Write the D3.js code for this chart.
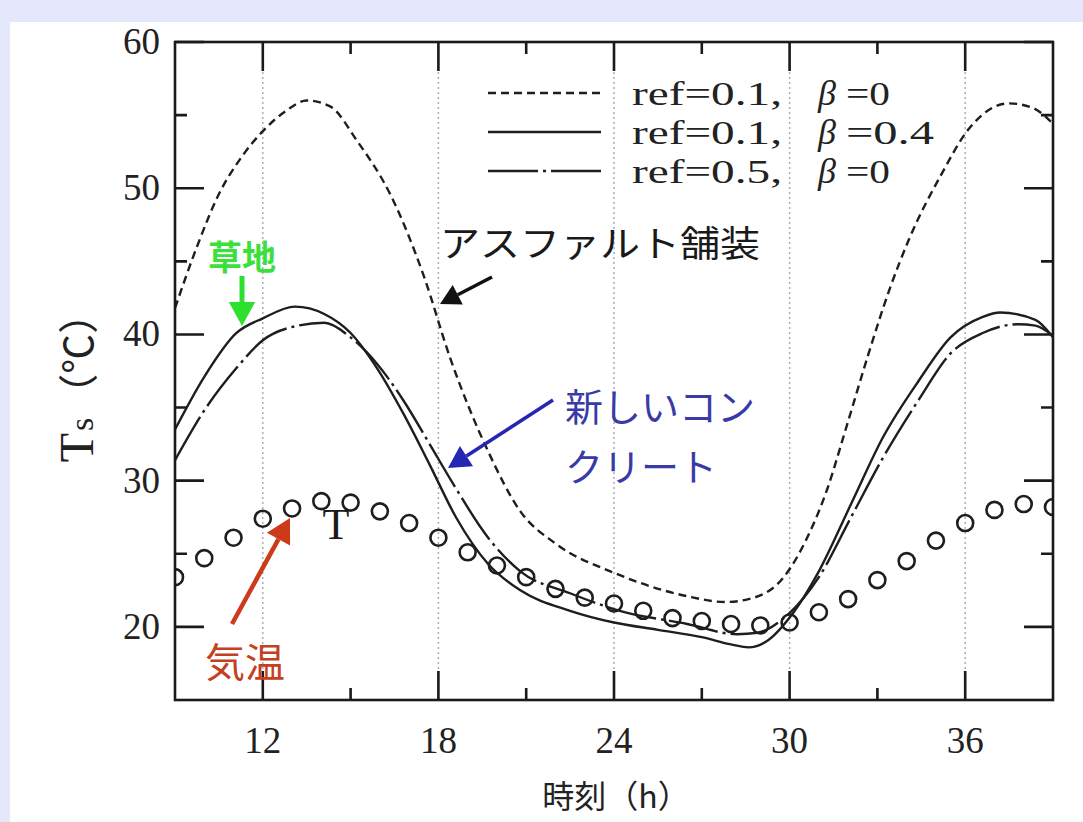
<!DOCTYPE html>
<html>
<head>
<meta charset="utf-8">
<script src="https://cdn.jsdelivr.net/npm/d3@7"></script>
<style>
  html, body { margin: 0; padding: 0; background: #e4e8fa; }
  svg { display: block; }
</style>
</head>
<body>
<script>
// surface temperature Ts for three pavement cases, and air temperature T
var asphaltH = [9, 9.75, 10.5, 11.3, 12, 12.8, 13.5, 14.3, 15.2, 16.4, 17.5, 18.4, 19.7, 20.8, 22, 24, 26.5, 27.8, 28.6, 29.8, 30.6, 31.3, 31.9, 32.7, 33.4, 34.1, 35.2, 36.1, 37.5, 38.3, 39];
var asphaltT = [41.8, 46, 49.6, 52.2, 53.9, 55.3, 56, 55.6, 53.3, 49.4, 44, 38.4, 32, 27.9, 25.7, 23.7, 22.1, 21.7, 21.9, 23.4, 26.1, 29.5, 33.4, 38.7, 43.0, 46.6, 51, 54, 55.8, 55.5, 54.4];

var grassH = [9, 10, 11.1, 12, 13.1, 14.1, 15, 15.9, 16.8, 17.7, 18.6, 19.7, 20.8, 22.5, 24, 25.5, 27, 28, 28.6, 29.2, 30.1, 31, 32.1, 33.2, 34.4, 35.5, 36.6, 37.2, 38.4, 39];
var grassT = [33.5, 37.1, 40.1, 41.1, 41.9, 41.4, 40.1, 37.7, 34.6, 31.1, 27.5, 24.3, 22.5, 21.1, 20.3, 19.8, 19.3, 18.8, 18.6, 19.0, 20.9, 23.8, 28.4, 33, 36.8, 39.8, 41.2, 41.5, 41, 39.8];

var concreteH = [9, 10, 11.1, 12, 13.2, 14.1, 15, 15.9, 16.8, 17.7, 18.5, 19.7, 20.8, 22.5, 24.2, 26.5, 28.2, 28.9, 29.8, 31, 32.1, 33.2, 34.4, 35.5, 36.6, 37.8, 38.4, 39];
var concreteT = [31.4, 34.8, 37.7, 39.6, 40.6, 40.8, 39.8, 38, 35.5, 32.5, 29.8, 26.1, 23.8, 22.3, 21.1, 20.2, 19.5, 19.6, 20.6, 23.4, 27.5, 31.6, 35.5, 38.7, 40.1, 40.7, 40.6, 39.9];

var airH = d3.range(9, 40);
var airT = [23.4, 24.7, 26.1, 27.4, 28.1, 28.6, 28.5, 27.9, 27.1, 26.1, 25.1, 24.2, 23.4, 22.6, 22.0, 21.6, 21.1, 20.6, 20.4, 20.2, 20.1, 20.3, 21.0, 21.9, 23.2, 24.5, 25.9, 27.1, 28.0, 28.4, 28.2];

var xMajor = [12, 18, 24, 30, 36];
var xMinor = [15, 21, 27, 33];
var yMajor = [20, 30, 40, 50, 60];
var yMinor = [25, 35, 45, 55];

var legendRef = ["ref=0.1,", "ref=0.1,", "ref=0.5,"];
var legendBeta = ["=0", "=0.4", "=0"];
var dashes = ["8,5", null, "50,5,3,5"];

var W = 1083, H = 822;
var svg = d3.select("body").append("svg").attr("width", W).attr("height", H);

svg.append("rect").attr("x", 10).attr("y", 22).attr("width", W - 10).attr("height", H - 22).attr("fill", "#fff");

var x = d3.scaleLinear().domain([9, 39]).range([175, 1053]);
var y = d3.scaleLinear().domain([15, 60]).range([700, 42]);

var serif = "'Liberation Serif', 'Times New Roman', serif";
var jp = "'Noto Sans CJK JP', 'Noto Sans', sans-serif";

// dotted grid at major hours
svg.append("g").selectAll("line").data(xMajor).enter().append("line")
  .attr("x1", function (d) { return x(d); })
  .attr("x2", function (d) { return x(d); })
  .attr("y1", y(60)).attr("y2", y(15))
  .attr("stroke", "#a9a9c8")
  .attr("stroke-width", 1.5)
  .attr("stroke-dasharray", "2,3");

// inward ticks on all four sides, one path
var x0 = x(9), x1 = x(39), yb = y(15), yt = y(60);
var td = "";
function addX(vals, len) {
  vals.forEach(function (v) {
    var px = x(v);
    td += "M" + px + "," + yb + "V" + (yb - len);
    td += "M" + px + "," + yt + "V" + (yt + len);
  });
}
function addY(vals, len) {
  vals.forEach(function (v) {
    var py = y(v);
    td += "M" + x0 + "," + py + "H" + (x0 + len);
    td += "M" + x1 + "," + py + "H" + (x1 - len);
  });
}
addX(xMajor, 29);
addX(xMinor, 12);
addY(yMajor, 29);
addY(yMinor, 12);
svg.append("path").attr("d", td)
  .attr("fill", "none").attr("stroke", "#1a1a1a").attr("stroke-width", 2.6);

// tick labels
svg.append("g").selectAll("text").data(xMajor).enter().append("text")
  .attr("x", function (d) { return x(d); })
  .attr("y", 753)
  .attr("text-anchor", "middle")
  .attr("font-family", serif).attr("font-size", 37).attr("fill", "#222")
  .text(function (d) { return d; });
svg.append("g").selectAll("text").data(yMajor).enter().append("text")
  .attr("x", 160)
  .attr("y", function (d) { return y(d) + 12; })
  .attr("text-anchor", "end")
  .attr("font-family", serif).attr("font-size", 37).attr("fill", "#222")
  .text(function (d) { return d; });

// clip to plot area
svg.append("clipPath").attr("id", "plot").append("rect")
  .attr("x", x0).attr("y", yt).attr("width", x1 - x0).attr("height", yb - yt);

var plot = svg.append("g").attr("clip-path", "url(#plot)");

var line = d3.line()
  .x(function (d) { return x(d[0]); })
  .y(function (d) { return y(d[1]); })
  .curve(d3.curveMonotoneX);

var series = [d3.zip(asphaltH, asphaltT), d3.zip(grassH, grassT), d3.zip(concreteH, concreteT)];
series.forEach(function (s, i) {
  plot.append("path").datum(s)
    .attr("d", line)
    .attr("fill", "none")
    .attr("stroke", "#1e1e1e")
    .attr("stroke-width", 2.4)
    .attr("stroke-dasharray", dashes[i]);
});

plot.append("g").selectAll("circle").data(d3.zip(airH, airT)).enter().append("circle")
  .attr("cx", function (d) { return x(d[0]); })
  .attr("cy", function (d) { return y(d[1]); })
  .attr("r", 8)
  .attr("fill", "none")
  .attr("stroke", "#1e1e1e")
  .attr("stroke-width", 2.6);

// frame
svg.append("rect")
  .attr("x", x0).attr("y", yt)
  .attr("width", x1 - x0).attr("height", yb - yt)
  .attr("fill", "none").attr("stroke", "#1a1a1a").attr("stroke-width", 2.6);

// legend
var leg = svg.append("g");
legendRef.forEach(function (lab, i) {
  var ly = 93 + i * 39;
  leg.append("line").attr("x1", 488).attr("x2", 601).attr("y1", ly).attr("y2", ly)
    .attr("stroke", "#1e1e1e").attr("stroke-width", 2.4).attr("stroke-dasharray", dashes[i]);
  leg.append("text").attr("x", 632).attr("y", ly + 12)
    .attr("font-family", serif).attr("font-size", 34).attr("fill", "#222")
    .attr("textLength", 150).attr("lengthAdjust", "spacingAndGlyphs")
    .text(lab);
  leg.append("text").attr("x", 818).attr("y", ly + 12)
    .attr("font-family", serif).attr("font-size", 36).attr("font-style", "italic").attr("fill", "#222")
    .text("β");
  leg.append("text").attr("x", 846).attr("y", ly + 12)
    .attr("font-family", serif).attr("font-size", 34).attr("fill", "#222")
    .attr("textLength", legendBeta[i].length * 22).attr("lengthAdjust", "spacingAndGlyphs")
    .text(legendBeta[i]);
});

// arrows
function arrow(ax, ay, bx2, by2, color, w, head) {
  var a = Math.atan2(by2 - ay, bx2 - ax);
  var bx = bx2 - head * Math.cos(a), by = by2 - head * Math.sin(a);
  svg.append("line").attr("x1", ax).attr("y1", ay).attr("x2", bx).attr("y2", by)
    .attr("stroke", color).attr("stroke-width", w);
  var hw = head * 0.55;
  var p = [[bx2, by2],
    [bx + hw * Math.sin(a), by - hw * Math.cos(a)],
    [bx - hw * Math.sin(a), by + hw * Math.cos(a)]];
  svg.append("path").attr("d", "M" + p.join("L") + "Z").attr("fill", color);
}

svg.append("text").attr("x", 242).attr("y", 270).attr("text-anchor", "middle")
  .attr("font-family", jp).attr("font-size", 34).attr("font-weight", "bold").attr("fill", "#3ce03c")
  .text("草地");
arrow(242, 276, 242, 326, "#2ee02e", 5, 24);

svg.append("text").attr("x", 440).attr("y", 257)
  .attr("font-family", jp).attr("font-size", 36).attr("fill", "#1a1a1a")
  .attr("textLength", 320).attr("lengthAdjust", "spacingAndGlyphs")
  .text("アスファルト舗装");
arrow(492, 277, 440, 304, "#111", 3.5, 20);

svg.append("text").attr("x", 565).attr("y", 421)
  .attr("font-family", jp).attr("font-size", 38).attr("fill", "#3a3aa6")
  .text("新しいコン");
svg.append("text").attr("x", 565).attr("y", 481)
  .attr("font-family", jp).attr("font-size", 38).attr("fill", "#3a3aa6")
  .text("クリート");
arrow(553, 400, 448, 468, "#2626b4", 3.5, 22);

svg.append("text").attr("x", 336).attr("y", 539).attr("text-anchor", "middle")
  .attr("font-family", serif).attr("font-size", 44).attr("fill", "#1a1a1a")
  .text("T");

svg.append("text").attr("x", 205).attr("y", 677)
  .attr("font-family", jp).attr("font-size", 40).attr("fill", "#c4401e")
  .text("気温");
arrow(232, 624, 290, 518, "#cc3a1a", 4.5, 24);

// axis titles
svg.append("text").attr("x", 616).attr("y", 808).attr("text-anchor", "middle")
  .attr("font-family", jp).attr("font-size", 32).attr("fill", "#222")
  .text("時刻（h）");

var yl = svg.append("text").attr("transform", "translate(93,378) rotate(-90)")
  .attr("text-anchor", "middle").attr("fill", "#222");
yl.append("tspan").attr("font-family", serif).attr("font-size", 48).text("T");
yl.append("tspan").attr("font-family", serif).attr("font-size", 34).attr("dx", 2).text("s");
yl.append("tspan").attr("font-family", jp).attr("font-size", 40).attr("dx", 4).text("（℃）");
</script>
</body>
</html>
